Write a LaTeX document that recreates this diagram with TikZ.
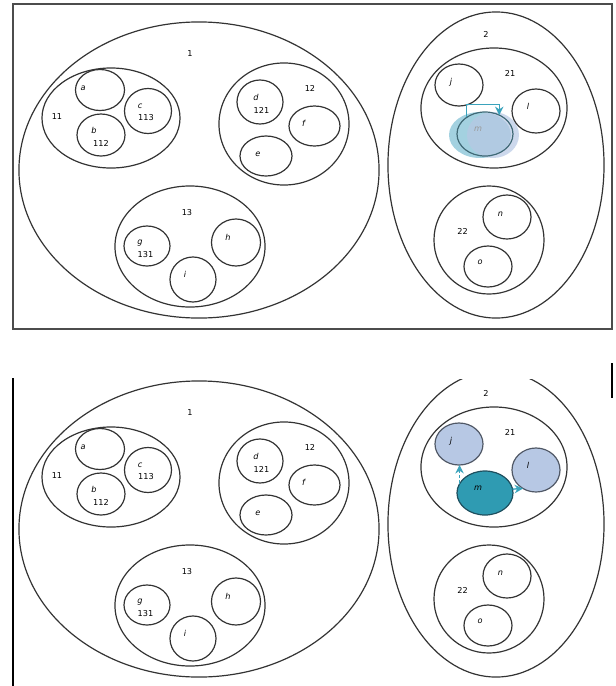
\documentclass[tikz,border=0pt]{standalone}
\usepackage{fontspec}
\setmainfont{DejaVu Sans}
\usetikzlibrary{arrows.meta,shapes.geometric}

\definecolor{pickfill}{HTML}{B7C8E4}
\definecolor{pickline}{HTML}{505866}
\definecolor{movefill}{HTML}{2F9BB2}
\definecolor{moveline}{HTML}{1E4F5E}
\definecolor{arrowc}{HTML}{3AA3BC}
\definecolor{glow}{HTML}{8CC6D8}

\begin{document}
\begin{tikzpicture}[x=0.025cm, y=-0.025cm, >={Stealth[length=6pt, width=6pt]},
  every node/.style={font=\fontsize{5.8}{6}\selectfont, inner sep=0pt},
  blob/.style 2 args={draw=black!80, line width=0.85pt, ellipse, outer sep=0pt,
    minimum width=#1*0.05cm, minimum height=#2*0.05cm},
  elem/.style={font=\fontsize{5.8}{6}\selectfont\itshape},
  tpick/.style={}, bpick/.style={fill=pickfill, draw=pickline},
  tmove/.style={draw=moveline!85}, bmove/.style={fill=movefill, draw=moveline},
  tmtext/.style={text=black!40}, bmtext/.style={},
  link/.style={arrowc, line width=1pt}]

  \useasboundingbox (0,0) rectangle (616,686);

  % frames
  \draw[black!70, line width=0.9pt] (13,4) rectangle (612,329);
  \draw[line width=0.9pt] (13,378) -- (13,686);
  \draw[line width=0.9pt] (612,363) -- (612,398);

  % blurred m (top panel)
  \fill[glow, opacity=0.8] (480,135) ellipse [x radius=31, y radius=23];
  \fill[pickfill, opacity=0.7] (493,135) ellipse [x radius=26, y radius=23];

  \foreach \p/\dy/\cy in {t/0/0, b/359/20}{
    \begin{scope}[shift={(0,\dy)}]
      \clip (0,\cy) rectangle (616,330);
      % set 1
      \node[blob={180}{148}] (\p S1) at (199,170) {};
      \node (\p N1) at (190,54) {1};
      \node[blob={69}{50}] (\p S11) at (111,118) {};
      \node (\p N11) at (57,117) {11};
      \node[blob={24.5}{20.5}] (\p a) at (100,90) {};
      \node[elem] (\p La) at (83,88) {a};
      \node[blob={23.5}{22.5}] (\p c) at (148,111) {};
      \node[elem] (\p Lc) at (140,106) {c};
      \node (\p Nc) at (146,118) {113};
      \node[blob={24}{21}] (\p b) at (101,135) {};
      \node[elem] (\p Lb) at (94,130) {b};
      \node (\p Nb) at (101,143) {112};
      \node[blob={65}{61}] (\p S12) at (284,124) {};
      \node (\p N12) at (310,88) {12};
      \node[blob={23}{22}] (\p d) at (260,102) {};
      \node[elem] (\p Ld) at (256,97) {d};
      \node (\p Nd) at (261.5,110) {121};
      \node[blob={25.5}{20}] (\p f) at (314.5,126) {};
      \node[elem] (\p Lf) at (303.5,123) {f};
      \node[blob={26}{20}] (\p e) at (266,156) {};
      \node[elem] (\p Le) at (258,154) {e};
      \node[blob={75}{60.5}] (\p S13) at (190,246.5) {};
      \node (\p N13) at (187,213) {13};
      \node[blob={23}{20}] (\p g) at (147,246) {};
      \node[elem] (\p Lg) at (140,243) {g};
      \node (\p Ng) at (145.5,255) {131};
      \node[blob={24.5}{23.5}] (\p h) at (236,242.5) {};
      \node[elem] (\p Lh) at (228,237) {h};
      \node[blob={23}{22.5}] (\p i) at (193,279.5) {};
      \node[elem] (\p Li) at (185,274) {i};
      % set 2
      \node[blob={108}{153}] (\p S2) at (496,165) {};
      \node (\p N2) at (486,34) {2};
      \node[blob={73}{60}] (\p S21) at (494,108) {};
      \node (\p N21) at (510,73) {21};
      \node[blob={24}{21}, \p pick] (\p j) at (459,85) {};
      \node[elem] (\p Lj) at (451,82) {j};
      \node[blob={24}{22}, \p pick] (\p l) at (536,111) {};
      \node[elem] (\p Ll) at (528,106) {l};
      \node[blob={28}{22}, \p move] (\p m) at (485,134) {};
      \node[elem, \p mtext] (\p Lm) at (478,129) {m};
      \node[blob={55}{54}] (\p S22) at (489,240) {};
      \node (\p N22) at (462.5,231) {22};
      \node[blob={24}{22}] (\p n) at (507,217) {};
      \node[elem] (\p Ln) at (500.5,214) {n};
      \node[blob={24}{20.5}] (\p o) at (488,266.5) {};
      \node[elem] (\p Lo) at (480,262) {o};
    \end{scope}
  }

  % moves of m
  \draw[link, ->] (tm.138) -- ++(0,-13) -| (tm.53);
  \draw[link, ->, dash pattern=on 2.5pt off 1.5pt] (bm.160) -- (bm.160 |- bj.south);
  \draw[link, ->] (bm.8) -- (bl.235);
\end{tikzpicture}
\end{document}
